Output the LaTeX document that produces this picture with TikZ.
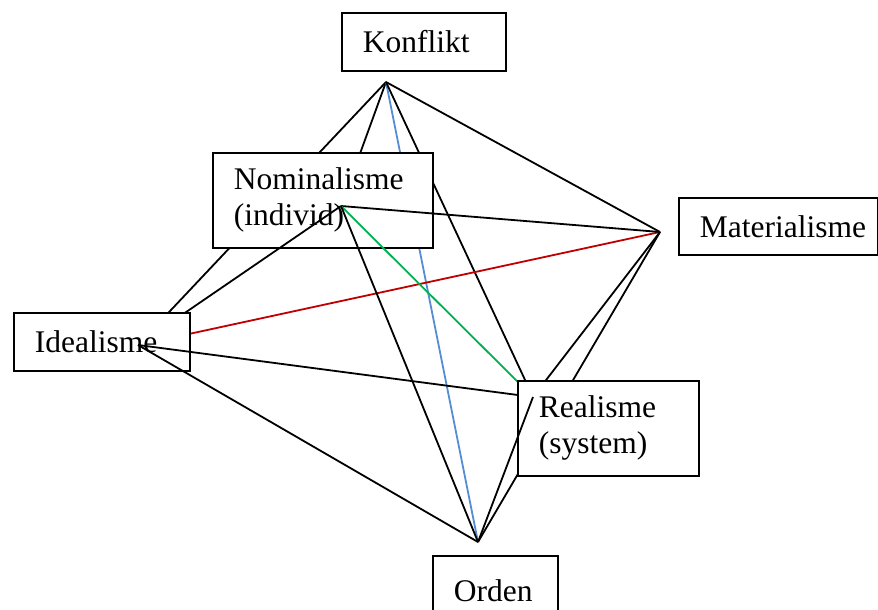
\documentclass[tikz,border=0pt]{standalone}
\usepackage{fontspec}
\setmainfont{Liberation Serif}
\definecolor{lineblue}{RGB}{85,142,213}
\definecolor{linered}{RGB}{192,0,0}
\definecolor{linegreen}{RGB}{0,176,80}

\begin{document}
\begin{tikzpicture}[x=1pt, y=-1pt, line width=1.8pt,
  box/.style={draw, fill=white, anchor=north west, inner xsep=21pt, inner ysep=0pt,
    align=left, font=\fontsize{31.5}{36}\selectfont}]

% Page frame (pixels of the sheet, y runs downwards):
\useasboundingbox (0,0) rectangle (878,610);

%--- Points where the lines meet ---
\coordinate (k) at (386,82);   % under Konflikt
\coordinate (n) at (341,206);  % in Nominalisme
\coordinate (i) at (138,345);  % in Idealisme
\coordinate (r) at (533,397);  % in Realisme
\coordinate (m) at (660,232);  % left of Materialisme
\coordinate (o) at (478,542);  % over Orden

%--- Lines lying under every box ---
\draw (k) -- (i);
\draw (k) -- (n);
\draw[lineblue] (k) -- (o);
\draw (k) -- (r);
\draw (k) -- (m);
\draw[linered] (i) -- (m);
\draw (m) -- (r);
\draw (m) -- (o);

%--- Nominalisme, then the lines drawn over it
\node[box, text width=178pt, minimum height=95pt] (nominal) at (212,152) {Nominalisme\\(individ)};
\draw (n) -- (i);
\draw (n) -- (m);
\draw[linegreen] (n) -- (r);
\draw (n) -- (o);

%--- Idealisme, then the lines drawn over it
\node[box, text width=134pt, minimum height=58pt] (ideal) at (13,312) {Idealisme};
\draw (i) -- (r);
\draw (i) -- (o);

%--- Realisme, then the line drawn over it
\node[box, text width=139pt, minimum height=95pt] (real) at (517,380) {Realisme\\(system)};
\draw (r) -- (o);

%--- Remaining boxes ---
\node[box, text width=122pt, minimum height=58pt] (konflikt) at (341,12) {Konflikt};
\node[box, text width=157pt, minimum height=57pt] (material) at (678,197) {\mbox{Materialisme}};
\node[box, text width=83pt, minimum height=70pt] (orden) at (432,555) {Orden};

\end{tikzpicture}
\end{document}
